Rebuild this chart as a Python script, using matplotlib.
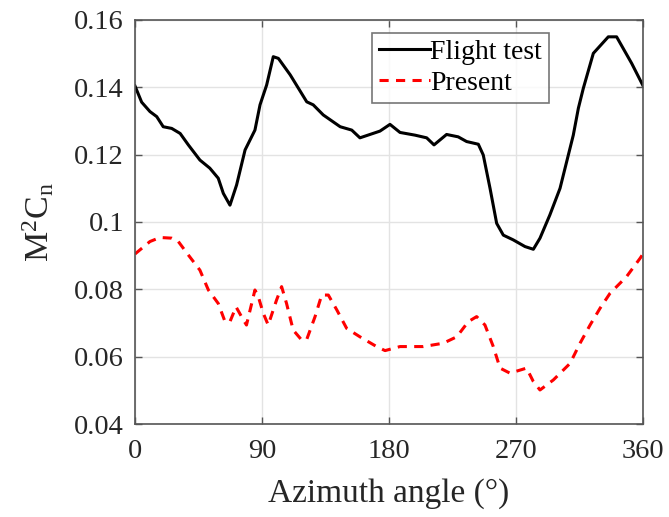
import matplotlib
matplotlib.use("Agg")
import matplotlib.pyplot as plt

plt.rcParams['font.family'] = ['Liberation Serif', 'DejaVu Serif']
plt.rcParams['mathtext.fontset'] = 'custom'
plt.rcParams['mathtext.rm'] = 'Liberation Serif'
plt.rcParams['mathtext.it'] = 'Liberation Serif'

flight_az = [0, 4.7, 10.6, 15.4, 20, 26, 32, 37.8, 46, 53, 59, 62.6, 67.3, 72, 78, 85, 88.6,
             93.3, 98, 101.6, 110, 121.7, 126.3, 133.4, 145.4, 153.6, 159.4, 173.6, 180.7,
             187.8, 198.4, 206.7, 211.9, 220.8, 229, 235, 243.3, 246.8, 251.6, 256.3, 261,
             268, 276.4, 282.3, 287, 294, 301.2, 305.9, 310.6, 314.2, 317.7, 324.8, 335.4,
             341.3, 352, 360]
flight_val = [0.1404, 0.1356, 0.1328, 0.1313, 0.1283, 0.1278, 0.1263, 0.1229, 0.1184, 0.1160,
              0.1130, 0.1085, 0.1050, 0.1110, 0.1214, 0.1273, 0.1348, 0.1407, 0.1491, 0.1486,
              0.1437, 0.1357, 0.1348, 0.1318, 0.1283, 0.1273, 0.1250, 0.1270, 0.1290, 0.1266,
              0.1258, 0.1250, 0.1229, 0.1260, 0.1253, 0.1239, 0.1231, 0.1199, 0.1100, 0.0996,
              0.0961, 0.0947, 0.0927, 0.0919, 0.0952, 0.1021, 0.1100, 0.1179, 0.1258, 0.1338,
              0.1397, 0.1501, 0.1550, 0.1550, 0.1471, 0.1405]

present_az = [0, 10.6, 17.7, 26, 30.7, 37.8, 46, 52, 59, 63.8, 67.3, 71.6, 76.8, 79, 85, 87.4,
              90.9, 94.4, 100.3, 103.9, 107.4, 112.1, 118, 121.6, 127.6, 132.3, 137, 143, 150,
              159.4, 171.2, 177.2, 187.8, 204.3, 218.5, 228, 236.2, 242.1, 248, 253.9, 258.7,
              265.7, 277.5, 282.3, 287, 296.5, 308.3, 315.4, 322.5, 329.6, 336.6, 348.4,
              357.9, 360]
present_val = [0.0905, 0.0942, 0.0954, 0.0952, 0.0942, 0.0902, 0.0857, 0.0798, 0.0758, 0.0704,
               0.0704, 0.0748, 0.0709, 0.0694, 0.0798, 0.0778, 0.0729, 0.0694, 0.0768, 0.0808,
               0.0758, 0.0679, 0.0650, 0.0650, 0.0719, 0.0783, 0.0783, 0.0739, 0.0684, 0.0659,
               0.0630, 0.0618, 0.0630, 0.0630, 0.0640, 0.0659, 0.0704, 0.0719, 0.0694, 0.0630,
               0.0566, 0.0551, 0.0566, 0.0526, 0.0501, 0.0531, 0.0580, 0.0640, 0.0694, 0.0744,
               0.0788, 0.0838, 0.0892, 0.0905]

xticks = [0, 90, 180, 270, 360]
yticks = [0.04, 0.06, 0.08, 0.1, 0.12, 0.14, 0.16]
ytick_labels = ['0.04', '0.06', '0.08', '0.1', '0.12', '0.14', '0.16']

fig = plt.figure(figsize=(6.69, 5.17), dpi=100)
ax = fig.add_axes([135/669, 1 - 424/517, (643-135)/669, (424-20)/517])

ax.plot(flight_az, flight_val, color='black', lw=2.2, label='Flight test')
ax.plot(present_az, present_val, color='red', lw=2.2, ls=(0, (3, 2.4)), label='Present')

ax.set_xlim(0, 360)
ax.set_ylim(0.04, 0.16)
ax.set_xticks(xticks)
ax.set_xticklabels([str(t) for t in xticks])
ax.set_yticks(yticks)
ax.set_yticklabels(ytick_labels)
ax.grid(True, color='#e3e3e3', lw=1.0)
ax.set_axisbelow(True)
ax.tick_params(direction='in', top=True, right=True, length=5, width=1,
               color='#555555', labelsize=20.5, labelcolor='#262626')
ax.tick_params(axis='y', pad=8)
ax.tick_params(axis='x', pad=11)
for s in ax.spines.values():
    s.set_color('#555555')
    s.set_linewidth(1.2)

ax.set_xlabel('Azimuth angle (°)', fontsize=24, color='#262626', labelpad=10)
ax.set_ylabel(r'M$^{\mathregular{2}}$C$_{\mathregular{n}}$', fontsize=24.5, color='#262626', labelpad=13)

leg = ax.legend(loc='upper right', bbox_to_anchor=(0.815, 0.969), fontsize=20,
                frameon=True, fancybox=False, edgecolor='#555555',
                handlelength=1.85, handletextpad=0.0, borderpad=0.25, labelspacing=0.2,
                borderaxespad=0.0)
leg.get_frame().set_linewidth(1.2)

fig.savefig('out.png', dpi=100)
